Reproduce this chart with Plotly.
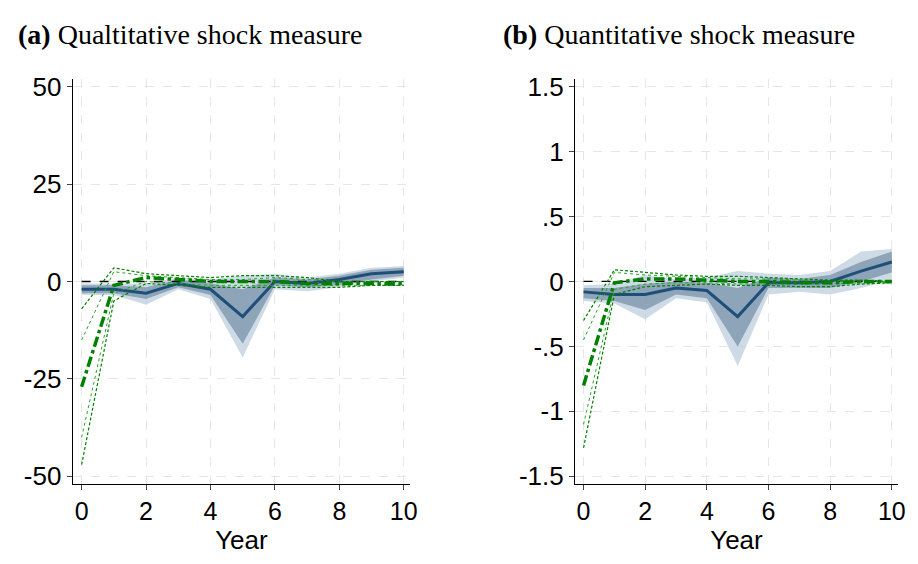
import plotly.graph_objects as go
from plotly.subplots import make_subplots

years = list(range(11))
# Panel a
a_est = [-2, -2, -3, -0.5, -2, -9, 0, -0.5, 0.5, 2, 2.5]
a_in_lo = [-3, -3, -4.5, -1.5, -3.5, -16, -1, -1.5, -1, 0.5, 1.5]
a_in_hi = [-1, -1, -1.5, 0.5, -0.5, -2, 1, 0.5, 1.5, 3, 3.5]
a_out_lo = [-3.5, -3.5, -6, -2, -4.5, -19.5, -2, -2.5, -1.5, 0, 1]
a_out_hi = [-0.5, -0.5, -0.5, 1, 0.5, 1.5, 2, 1, 2, 3.5, 4]
a_g = [-27, -1, 1, 0.5, 0, 0, 0, -0.5, -0.5, -0.5, -0.5]
a_g_hi90 = [-15, 2.5, 1.5, 1, 0.5, 0.5, 1, 0.5, 0, 0, 0]
a_g_lo90 = [-40, -3, 0, -0.5, -1, -1, -1, -1, -1, -1, -1]
a_g_hi95 = [-7, 3.5, 2, 1.5, 1, 1.5, 1.5, 1, 0, 0, 0]
a_g_lo95 = [-47, -5, -0.5, -1, -1.5, -1.5, -1.5, -1.5, -1.5, -1, -1]
# Panel b
b_est = [-0.08, -0.1, -0.1, -0.05, -0.07, -0.27, -0.01, -0.01, 0, 0.08, 0.15]
b_in_lo = [-0.13, -0.15, -0.22, -0.1, -0.13, -0.5, -0.05, -0.05, -0.05, 0, 0.07]
b_in_hi = [-0.05, -0.05, -0.02, 0, -0.01, -0.05, 0.03, 0.02, 0.05, 0.15, 0.23]
b_out_lo = [-0.15, -0.17, -0.29, -0.13, -0.16, -0.65, -0.1, -0.08, -0.1, -0.05, 0.01]
b_out_hi = [-0.03, -0.02, 0.05, 0.02, 0.03, 0.08, 0.06, 0.05, 0.08, 0.23, 0.25]
b_g = [-0.8, -0.01, 0.02, 0.02, 0.01, 0, 0, -0.01, -0.01, 0, 0]
b_g_hi90 = [-0.45, 0.07, 0.05, 0.04, 0.03, 0.02, 0.02, 0.01, 0, 0, 0]
b_g_lo90 = [-1.1, -0.06, -0.02, -0.01, -0.01, -0.02, -0.02, -0.02, -0.02, -0.01, -0.01]
b_g_hi95 = [-0.3, 0.09, 0.07, 0.05, 0.04, 0.04, 0.03, 0.02, 0.01, 0.01, 0]
b_g_lo95 = [-1.28, -0.1, -0.04, -0.03, -0.02, -0.03, -0.03, -0.04, -0.04, -0.02, -0.01]

fig = make_subplots(rows=1, cols=2)

def panel(col, est, ilo, ihi, olo, ohi, g, h90, l90, h95, l95):
    def band(lo, hi, color):
        fig.add_trace(go.Scatter(x=years, y=lo, mode="lines", line=dict(width=0), showlegend=False), row=1, col=col)
        fig.add_trace(go.Scatter(x=years, y=hi, mode="lines", line=dict(width=0), fill="tonexty",
                                 fillcolor=color, showlegend=False), row=1, col=col)
    band(olo, ohi, "rgba(190,205,220,0.75)")
    band(ilo, ihi, "rgba(120,145,170,0.75)")
    fig.add_trace(go.Scatter(x=years, y=[0]*11, mode="lines", line=dict(color="black", width=1.3, dash="dash"), showlegend=False), row=1, col=col)
    fig.add_trace(go.Scatter(x=years, y=est, mode="lines", line=dict(color="#1f4e79", width=3), showlegend=False), row=1, col=col)
    for ys in (h90, l90):
        fig.add_trace(go.Scatter(x=years, y=ys, mode="lines", line=dict(color="#2ca02c", width=1, dash="dot"), showlegend=False), row=1, col=col)
    for ys in (h95, l95):
        fig.add_trace(go.Scatter(x=years, y=ys, mode="lines", line=dict(color="#008000", width=1.2, dash="3px,2px"), showlegend=False), row=1, col=col)
    fig.add_trace(go.Scatter(x=years, y=g, mode="lines", line=dict(color="#008000", width=3.5, dash="dashdot"), showlegend=False), row=1, col=col)

panel(1, a_est, a_in_lo, a_in_hi, a_out_lo, a_out_hi, a_g, a_g_hi90, a_g_lo90, a_g_hi95, a_g_lo95)
panel(2, b_est, b_in_lo, b_in_hi, b_out_lo, b_out_hi, b_g, b_g_hi90, b_g_lo90, b_g_hi95, b_g_lo95)

axfont = dict(family="Liberation Sans, Arial", size=25, color="black")
doms = [[0.071, 0.442], [0.623, 0.978]]
for c in (1, 2):
    fig.update_xaxes(row=1, col=c, domain=doms[c-1], range=[-0.28, 10.2], tickvals=[0, 2, 4, 6, 8, 10], showline=True, linecolor="black",
                     ticks="outside", ticklen=5, showgrid=True, gridcolor="#e6e6e6", griddash="dash", zeroline=False,
                     tickfont=axfont, title=dict(text="Year", font=dict(family="Liberation Sans, Arial", size=26, color="black"), standoff=4))
fig.update_yaxes(row=1, col=1, range=[-52, 52], tickvals=[-50, -25, 0, 25, 50], ticktext=["-50", "-25", "0", "25", "50"])
fig.update_yaxes(row=1, col=2, range=[-1.56, 1.56], tickvals=[-1.5, -1, -0.5, 0, 0.5, 1, 1.5],
                 ticktext=["-1.5", "-1", "-.5", "0", ".5", "1", "1.5"])
fig.update_yaxes(domain=[0.147, 0.884], showline=True, linecolor="black", ticks="outside", ticklen=5, showgrid=True, gridcolor="#e6e6e6",
                 griddash="dash", zeroline=False, tickfont=dict(family="Liberation Sans, Arial", size=26, color="black"))
tfont = dict(family="Liberation Serif, DejaVu Serif", size=28, color="black")
fig.add_annotation(text="<b>(a)</b> Qualtitative shock measure", x=8/918, y=1-20/564, xref="paper", yref="paper",
                   xanchor="left", yanchor="middle", showarrow=False, font=tfont)
fig.add_annotation(text="<b>(b)</b> Quantitative shock measure", x=497/918, y=1-20/564, xref="paper", yref="paper",
                   xanchor="left", yanchor="middle", showarrow=False, font=tfont)
fig.update_layout(width=918, height=564, plot_bgcolor="white", paper_bgcolor="white",
                  margin=dict(l=0, r=0, t=0, b=0))
fig.write_html("out.html")
